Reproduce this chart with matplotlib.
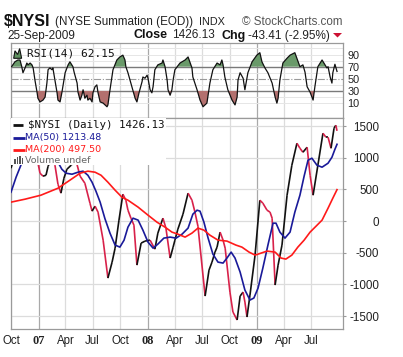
import numpy as np
import pandas as pd
import matplotlib
matplotlib.use("Agg")
import matplotlib.pyplot as plt
import matplotlib.dates as mdates
from matplotlib.collections import LineCollection
from matplotlib.patches import Rectangle, Polygon

start = pd.Timestamp("2006-10-01")

# NYSI summation index, days counted from 2006-10-01
nysi_day = [0, 10, 27, 43, 60, 74, 87, 97, 107, 117, 124, 137, 147, 157, 167, 177, 187, 201, 217, 231,
            247, 264, 271, 281, 291, 308, 324, 338, 348, 361, 374, 384, 391, 401, 411, 421, 435, 448, 465, 481,
            491, 508, 518, 532, 542, 548, 558, 575, 592, 605, 615, 625, 649, 662, 672, 682, 689, 699, 709, 716,
            732, 742, 756, 766, 776, 782, 789, 799, 816, 832, 842, 856, 866, 873, 883, 893, 906, 923, 939, 956,
            966, 976, 990, 1000, 1010, 1026, 1043, 1053, 1060, 1070, 1080, 1086, 1090]
nysi_val = [836, 994, 1167, 1246, 1277, 1183, 994, 757, 710, 725, 867, 994, 883, 583, 442, 678, 820, 883, 962, 710,
            599, 284, 158, 237, 142, -300, -899, -647, -426, 16, 426, 331, 173, 47, -63, -694, -347, -315, -300, -442,
            -189, 47, -110, -583, -410, -300, -126, 110, 442, 331, 142, -79, -1183, -773, -647, -489, -410, -173, -300, -426,
            -1120, -1435, -1561, -1183, -1120, -1277, -1514, -1167, -536, 331, 284, 173, 142, 47, -1009, -694, -378, 410, 883, 1230,
            1151, 1088, 1167, 725, 410, 883, 1388, 1325, 1325, 1151, 1467, 1514, 1426.13]

ma50_day = [0, 17, 37, 57, 77, 97, 117, 137, 157, 170, 184, 204, 224, 241, 257, 271, 284, 298, 314, 331,
            348, 364, 378, 391, 408, 425, 441, 458, 475, 491, 511, 532, 552, 572, 592, 608, 622, 632, 645, 659,
            675, 692, 709, 722, 736, 749, 766, 782, 799, 812, 826, 842, 859, 876, 886, 899, 916, 933, 949, 966,
            980, 993, 1006, 1023, 1040, 1060, 1073, 1083, 1090]
ma50_val = [457, 694, 930, 1120, 1230, 1262, 1214, 1120, 930, 820, 757, 741, 773, 789, 725, 615, 473, 300, 40, -190,
            -378, -410, -300, -95, 47, 16, -142, -331, -426, -363, -268, -252, -268, -205, -110, 110, 173, 158, -16, -268,
            -520, -647, -662, -583, -489, -583, -804, -1088, -1246, -1214, -1057, -741, -378, -32, -32, -173, -268, -173, 142, 410,
            710, 962, 994, 883, 852, 915, 1009, 1135, 1213.48]

ma200_day = [0, 47, 100, 157, 197, 231, 257, 281, 301, 324, 348, 371, 391, 425, 458, 488, 515, 538, 558, 582,
             605, 625, 645, 665, 692, 722, 752, 772, 796, 816, 836, 856, 883, 903, 919, 939, 959, 980, 1000, 1020,
             1040, 1060, 1076, 1090]
ma200_val = [300, 347, 410, 520, 647, 757, 789, 773, 725, 615, 489, 378, 331, 221, 95, -16, -95, -173, -205, -252,
             -189, -110, -142, -221, -300, -315, -378, -410, -489, -536, -505, -473, -489, -583, -599, -536, -410, -300, -173, -79,
             16, 205, 363, 497.50]

rsi_day = [2, 13, 23, 30, 36, 40, 47, 53, 57, 64, 70, 74, 80, 87, 90, 97, 107, 114, 120, 124,
           130, 137, 140, 147, 154, 157, 164, 170, 181, 191, 197, 207, 211, 221, 224, 231, 237, 241, 247, 254,
           257, 264, 271, 274, 281, 287, 291, 298, 308, 321, 324, 331, 341, 354, 364, 374, 381, 384, 391, 404,
           415, 421, 428, 438, 441, 448, 455, 458, 465, 471, 475, 481, 491, 505, 508, 515, 522, 525, 532, 538,
           542, 548, 565, 582, 592, 605, 608, 622, 632, 642, 655, 665, 675, 689, 699, 705, 709, 715, 725, 739,
           749, 756, 759, 766, 776, 782, 792, 806, 822, 832, 839, 849, 859, 873, 883, 889, 893, 899, 909, 923,
           933, 949, 960, 966, 976, 983, 990, 1000, 1010, 1016, 1026, 1040, 1050, 1056, 1060, 1067, 1073, 1076, 1083, 1090]
rsi_val = [70, 78, 81, 81, 70, 60, 68, 76, 73, 76, 73, 68, 48, 28, 18, 12, 15, 20, 43, 65,
           68, 65, 68, 48, 27, 15, 12, 27, 60, 73, 78, 70, 61, 43, 28, 15, 23, 32, 18, 23,
           15, 18, 12, 27, 37, 40, 27, 12, 10, 4, 7, 32, 65, 81, 86, 89, 81, 70, 60, 37,
           18, 12, 27, 45, 53, 51, 56, 51, 32, 27, 37, 65, 73, 76, 81, 70, 48, 32, 23, 32,
           48, 65, 76, 81, 86, 68, 53, 32, 15, 4, 10, 43, 65, 76, 73, 81, 73, 53, 32, 15,
           7, 20, 48, 60, 51, 32, 60, 78, 89, 93, 78, 68, 60, 43, 20, 10, 18, 48, 76, 84,
           89, 93, 78, 70, 73, 61, 37, 28, 15, 37, 70, 81, 73, 68, 70, 53, 43, 60, 74, 62.15]

main_ticks = [-1500, -1000, -500, 0, 500, 1000, 1500]
rsi_ticks = [10, 30, 50, 70, 90]


def to_num(days):
    return mdates.date2num(start + pd.to_timedelta(days, unit="D"))


W, H = 403, 357
fig = plt.figure(figsize=(W / 100, H / 100), dpi=100)


def fx(x):
    return x / W


def fy(y):
    return 1 - y / H


left, right = 11, 343
ax_r = fig.add_axes([fx(left), fy(118.3), fx(right - left), (118.3 - 43.3) / H])
ax = fig.add_axes([fx(left), fy(329), fx(right - left), (329 - 118.3) / H])

x0 = to_num(0)
x1 = to_num(1110)
tick_dates = pd.date_range("2006-10-01", "2009-07-01", freq="QS-JAN")
tick_nums = mdates.date2num(tick_dates)
grid_c = "#dcdcdc"
year_c = "#a9a9a9"
spine_c = "#9a9a9a"

for a in (ax_r, ax):
    a.set_xlim(x0, x1)
    a.set_xticks(tick_nums)
    for t, d in zip(tick_nums, tick_dates):
        a.axvline(t, color=year_c if d.month == 1 else grid_c, lw=0.9, zorder=0)
    for s in a.spines.values():
        s.set_color(spine_c)
        s.set_linewidth(0.9)
    a.yaxis.tick_right()

# RSI panel
rx = to_num(rsi_day)
rv = np.array(rsi_val)
ax_r.set_ylim(-15, 108.5)
for lvl in [10, 20, 40, 60, 80, 90, 100]:
    ax_r.axhline(lvl, color="#e6e6e6", lw=0.7, zorder=0)
ax_r.axhline(70, color="#7a7a7a", lw=1.0, zorder=1)
ax_r.axhline(30, color="#7a7a7a", lw=1.0, zorder=1)
ax_r.axhline(50, color="#9a9a9a", lw=0.8, ls="-.", zorder=1)
ax_r.fill_between(rx, rv, 70, where=rv >= 70, interpolate=True, color="#6a9a6a", lw=0, zorder=2)
ax_r.fill_between(rx, rv, 30, where=rv <= 30, interpolate=True, color="#b3706e", lw=0, zorder=2)
ax_r.plot(rx, rv, color="#111111", lw=0.9, zorder=3)
ax_r.set_yticks(rsi_ticks)
ax_r.set_yticklabels([str(t) for t in rsi_ticks], family="Liberation Sans", fontsize=7.8, color="#222222")
ax_r.tick_params(axis="y", length=0, pad=3)
ax_r.tick_params(axis="x", length=0, labelbottom=False)
ax_r.text(0.048, 0.86, "RSI(14) 62.15", transform=ax_r.transAxes, family="DejaVu Sans Mono",
          fontsize=8, va="center", ha="left", color="#111111")
ax_r.add_patch(Polygon([[0.008, 0.80], [0.012, 0.90], [0.02, 0.85], [0.026, 0.93], [0.032, 0.80]],
                       closed=True, transform=ax_r.transAxes, facecolor="#5f915f", edgecolor="#111111", lw=0.8))

# main panel
ax.set_ylim(-1703, 1624)
ax.set_yticks(main_ticks)
for t in main_ticks:
    ax.axhline(t, color=grid_c, lw=0.9, zorder=0)
ax.set_yticklabels([str(t) for t in main_ticks], family="Liberation Sans", fontsize=8.4, color="#222222")
for lab in ax.get_yticklabels():
    lab.set_horizontalalignment("right")
ax.tick_params(axis="y", length=2.5, pad=23.5, color=spine_c)

nx = to_num(nysi_day)
nv = np.array(nysi_val, dtype=float)
pts = np.column_stack([nx, nv]).reshape(-1, 1, 2)
segs = np.concatenate([pts[:-1], pts[1:]], axis=1)
cols = ["#111111" if d >= 0 else "#d8214a" for d in np.diff(nv)]
ax.add_collection(LineCollection(segs, colors=cols, linewidths=1.2, zorder=3))
ax.plot(to_num(ma50_day), ma50_val, color="#1a1a99", lw=1.2, zorder=4)
ax.plot(to_num(ma200_day), ma200_val, color="#ff1a1a", lw=1.2, zorder=4)

labels = []
for d in tick_dates:
    labels.append(d.strftime("%y") if d.month == 1 else d.strftime("%b"))
ax.set_xticklabels(labels, family="Liberation Sans", fontsize=8.3, color="#222222")
for lab, d in zip(ax.get_xticklabels(), tick_dates):
    if d.month == 1:
        lab.set_fontweight("bold")
        lab.set_family("Liberation Serif")
        lab.set_fontsize(8.8)
ax.tick_params(axis="x", length=0, pad=4.5)

# legend block
pw = right - left


def axx(x):
    return (x - left) / pw


def axy(y):
    return (329 - y) / (329 - 118.3)


ax.add_patch(Rectangle((0, axy(165)), axx(166), 1 - axy(165), transform=ax.transAxes,
                       facecolor="white", edgecolor="none", zorder=5))
leg = [(125, r"\$NYSI (Daily) 1426.13", "#111111", "DejaVu Sans Mono", 7.8, 28),
       (137.5, "MA(50) 1213.48", "#1a1a99", "DejaVu Sans", 6.8, 25),
       (149.5, "MA(200) 497.50", "#ff1a1a", "DejaVu Sans", 6.8, 25),
       (161, "Volume undef", "#666666", "DejaVu Sans", 6.8, 25)]
for y, txt, c, fam, fs, tx in leg:
    ax.text(axx(tx), axy(y), txt, transform=ax.transAxes, color=c, family=fam, fontsize=fs,
            va="center", ha="left", zorder=6)
for y, c, x_a, x_b in [(125, "#111111", 13, 23), (137.5, "#1a1a99", 13, 25), (149.5, "#ff1a1a", 13, 25)]:
    ax.plot([axx(x_a), axx(x_b)], [axy(y), axy(y)], transform=ax.transAxes, color=c, lw=2, zorder=6,
            solid_capstyle="butt")
for i, hgt in enumerate([5, 7, 8, 6]):
    ax.add_patch(Rectangle((axx(14 + i * 2.5), axy(164.5)), 1.6 / pw, hgt / (329 - 118.3),
                           transform=ax.transAxes, facecolor="#555555", edgecolor="none", zorder=6))

# header
fig.text(fx(4), fy(22), r"\$NYSI", family="Liberation Sans", fontweight="bold", fontsize=11.5,
         va="center", ha="left", color="#111111")
fig.text(fx(55), fy(22), "(NYSE Summation (EOD))", family="Liberation Sans", fontsize=8.4,
         va="center", ha="left", color="#222222")
fig.text(fx(199), fy(22), "INDX", family="Liberation Sans", fontsize=7.8, va="center", ha="left", color="#222222")
fig.text(fx(242), fy(22), "\u00a9 StockCharts.com", family="Liberation Sans", fontsize=8.4,
         va="center", ha="left", color="#555555")
fig.text(fx(7), fy(35.5), "25-Sep-2009", family="Liberation Sans", fontsize=8.5, va="center", ha="left",
         color="#222222")
fig.text(fx(133), fy(35.5), "Close", family="Liberation Sans", fontweight="bold", fontsize=9,
         va="center", ha="left", color="#111111")
fig.text(fx(172), fy(35.5), "1426.13", family="Liberation Sans", fontsize=8.5, va="center", ha="left",
         color="#222222")
fig.text(fx(222), fy(35.5), "Chg", family="Liberation Sans", fontweight="bold", fontsize=9,
         va="center", ha="left", color="#111111")
fig.text(fx(248), fy(35.5), "-43.41 (-2.95%)", family="Liberation Sans", fontsize=8.5, va="center", ha="left",
         color="#222222")
fig.add_artist(Polygon([[fx(333), fy(33)], [fx(342), fy(33)], [fx(337.5), fy(37.5)]], closed=True,
                       transform=fig.transFigure, facecolor="#cc1133", edgecolor="none"))

fig.savefig("out.png", dpi=100)
